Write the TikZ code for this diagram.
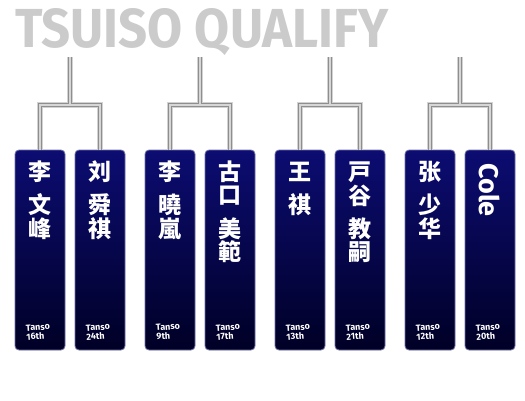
\documentclass[tikz,border=0pt]{standalone}
\usepackage{fontspec}
\setmainfont[Numbers=Lining]{Fira Sans}
\newfontfamily\zhfont{Noto Sans CJK SC}
\newfontfamily\jpfont{Noto Sans CJK JP}
\newfontfamily\titlefont[Numbers=Lining]{Fira Sans}
\usepackage{graphicx}
\usepackage{pdfrender}
\definecolor{navytop}{HTML}{0C0C72}
\definecolor{navybot}{HTML}{000026}
\definecolor{boxedge}{HTML}{7070A8}
\definecolor{lineshadow}{HTML}{D2D2D2}
\definecolor{lineout}{HTML}{8E8E8E}
\definecolor{linein}{HTML}{D6D6D6}
\definecolor{titlefill}{HTML}{CBCBCB}
\tikzset{
  plate/.style={rectangle, minimum width=50pt, minimum height=200pt, inner sep=0pt,
    rounded corners=4pt, top color=navytop, bottom color=navybot, draw=boxedge, line width=0.8pt},
  namech/.style={text=white, inner sep=0pt},
  tanso/.style={anchor=west, align=left, inner sep=0pt, text=white, rotate=4,
    font=\bfseries\fontsize{9}{9}\selectfont},
  brshadow/.style={draw=lineshadow, line width=6.5pt},
  brout/.style={draw=lineout, line width=4.2pt},
  brin/.style={draw=linein, line width=1.8pt},
  titletext/.style={anchor=base west, inner sep=0pt, text=titlefill}
}
\newcommand{\zhch}{\zhfont\bfseries\fontsize{23}{23}\selectfont}
\newcommand{\jpch}{\jpfont\bfseries\fontsize{23}{23}\selectfont}
\newcommand{\titlebox}{\resizebox{373pt}{39pt}{\special{pdf:literal direct 0.6 0.6 0.6 RG}\textpdfrender{TextRenderingMode=FillStroke,LineWidth=1}{\titlefont\bfseries TSUISO QUALIFY}}}
\begin{document}
\begin{tikzpicture}[x=1pt,y=1pt]
\fill[white] (0,0) rectangle (525,400);
\useasboundingbox (0,0) rectangle (525,400);
% title
\node[titletext] (title) at (15,353) {\titlebox};
% plates
\foreach \i/\cx in {1/40,2/100,3/170,4/230,5/300,6/360,7/430,8/490}
  \node[plate] (b\i) at (\cx,150) {};
% bracket coordinates
\foreach \k/\mx in {1/70,2/200,3/330,4/460}{
  \coordinate (t\k) at (\mx,343);
  \coordinate (j\k) at (\mx,295);
}
% brackets, three passes
\foreach \sty in {brshadow,brout,brin}{
  \draw[\sty] (b1.north) |- (j1) -| (b2.north); \draw[\sty] (t1) -- (j1);
  \draw[\sty] (b3.north) |- (j2) -| (b4.north); \draw[\sty] (t2) -- (j2);
  \draw[\sty] (b5.north) |- (j3) -| (b6.north); \draw[\sty] (t3) -- (j3);
  \draw[\sty] (b7.north) |- (j4) -| (b8.north); \draw[\sty] (t4) -- (j4);
}
% names
\foreach \ch/\yy [count=\k] in {李/172,文/205,峰/228.5}
  \node[namech, font=\zhch] (n1-\k) at (40,400-\yy) {\ch};
\foreach \ch/\yy [count=\k] in {刘/172,舜/205,祺/228.5}
  \node[namech, font=\zhch] (n2-\k) at (100,400-\yy) {\ch};
\foreach \ch/\yy [count=\k] in {李/172,曉/205,嵐/228.5}
  \node[namech, font=\zhch] (n3-\k) at (170,400-\yy) {\ch};
\foreach \ch/\yy [count=\k] in {古/172,口/195.5,美/228.5,範/252}
  \node[namech, font=\jpch] (n4-\k) at (230,400-\yy) {\ch};
\foreach \ch/\yy [count=\k] in {王/172,祺/205}
  \node[namech, font=\zhch] (n5-\k) at (300,400-\yy) {\ch};
\foreach \ch/\yy [count=\k] in {戸/172,谷/195.5,教/228.5,嗣/252}
  \node[namech, font=\jpch] (n6-\k) at (360,400-\yy) {\ch};
\foreach \ch/\yy [count=\k] in {张/172,少/205,华/228.5}
  \node[namech, font=\zhch] (n7-\k) at (430,400-\yy) {\ch};
\node[namech, rotate=-90, font=\bfseries\fontsize{27}{27}\selectfont] (n8-1) at (490,210) {Cole};
% Tanso labels
\foreach \i/\cx/\rk in {1/40/16th,2/100/24th,3/170/9th,4/230/17th,5/300/13th,6/360/21th,7/430/12th,8/490/20th}
  \node[tanso] (l\i) at (\cx-14,67.5) {Tanso\\\rk};
\end{tikzpicture}
\end{document}
